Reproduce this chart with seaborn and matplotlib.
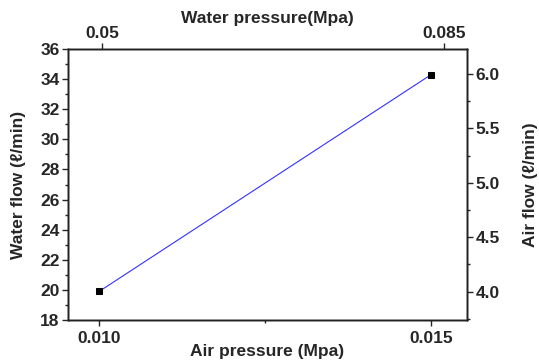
import matplotlib
matplotlib.use("Agg")
import matplotlib.pyplot as plt
import seaborn as sns
import pandas as pd
from matplotlib.ticker import MultipleLocator, FixedLocator

air_pressure = [0.010, 0.015]
water_flow = [19.9, 34.3]
water_pressure = [0.05, 0.085]
air_flow = [4.0, 6.0]

sns.set_style("ticks")
plt.rcParams['font.family'] = ['Liberation Sans', 'DejaVu Sans']
plt.rcParams['font.weight'] = 'bold'

fig = plt.figure(figsize=(5.39, 3.64), dpi=100)
ax = fig.add_axes([68/539, 1-320/364, (467-68)/539, (320-49)/364])

df = pd.DataFrame({"air_pressure": air_pressure, "water_flow": water_flow})
sns.lineplot(data=df, x="air_pressure", y="water_flow", ax=ax, color="#3333ff",
             linewidth=0.8, marker="s", markersize=5, markerfacecolor="black",
             markeredgecolor="black")

FS = 12.5
ax.set_xlim(0.00953, 0.01554)
ax.set_ylim(18, 36)
ax.xaxis.set_major_locator(FixedLocator([0.010, 0.015]))
ax.xaxis.set_minor_locator(FixedLocator([0.0125]))
ax.set_xticklabels(["0.010", "0.015"])
ax.yaxis.set_major_locator(MultipleLocator(2))
ax.yaxis.set_minor_locator(MultipleLocator(1))
ax.set_xlabel("Air pressure (Mpa)", fontsize=FS, fontweight='bold')
ax.xaxis.set_label_coords(0.5, -0.09)
ax.set_ylabel("Water flow (ℓ/min)", fontsize=FS, fontweight='bold', labelpad=10)

ax2 = ax.twinx()
ax2.set_ylim(3.74, 6.23)
ax2.yaxis.set_minor_locator(MultipleLocator(0.25))
ax2.set_yticks([4.0, 4.5, 5.0, 5.5, 6.0])
ax2.set_yticklabels([f"{v:.1f}" for v in [4.0, 4.5, 5.0, 5.5, 6.0]])
ax2.set_ylabel("Air flow (ℓ/min)", fontsize=FS, fontweight='bold', labelpad=17)

ax3 = ax.twiny()
ax3.set_xlim(0.04652, 0.08735)
ax3.set_xticks(water_pressure)
ax3.set_xticklabels(["0.05", "0.085"])
ax3.set_xlabel("Water pressure(Mpa)", fontsize=FS, fontweight='bold')
ax3.xaxis.set_label_coords(0.5, 1.095)

for a in (ax, ax2, ax3):
    for s in a.spines.values():
        s.set_linewidth(1.0)
        s.set_color("#222222")
        s.set_visible(True)
    a.tick_params(which='major', length=4, width=1, labelsize=FS, direction='out', pad=2)
    a.tick_params(which='minor', length=2, width=1, direction='out')
    for lab in a.get_xticklabels() + a.get_yticklabels():
        lab.set_fontweight('bold')

ax.tick_params(axis='x', pad=4)
ax3.tick_params(axis='x', pad=2)

fig.savefig("out.png", dpi=100)
